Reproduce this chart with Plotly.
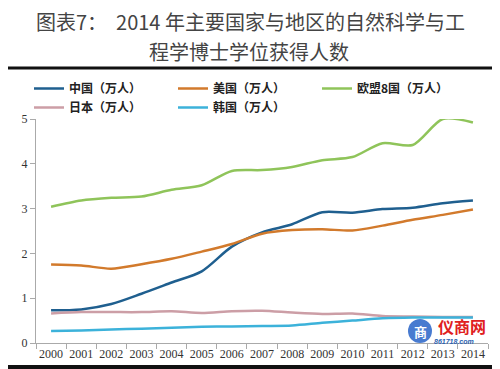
import plotly.graph_objects as go

years = [str(y) for y in range(2000, 2015)]
china = [0.73, 0.75, 0.87, 1.1, 1.35, 1.6, 2.15, 2.47, 2.65, 2.92, 2.91, 2.99, 3.02, 3.12, 3.18]
usa = [1.75, 1.73, 1.66, 1.76, 1.88, 2.04, 2.21, 2.44, 2.52, 2.54, 2.51, 2.62, 2.75, 2.86, 2.98]
eu8 = [3.04, 3.18, 3.24, 3.27, 3.42, 3.52, 3.84, 3.86, 3.93, 4.08, 4.15, 4.46, 4.42, 5.0, 4.92]
japan = [0.66, 0.69, 0.69, 0.69, 0.71, 0.67, 0.71, 0.72, 0.68, 0.65, 0.66, 0.6, 0.59, 0.58, 0.58]
korea = [0.27, 0.28, 0.3, 0.32, 0.34, 0.36, 0.37, 0.38, 0.39, 0.45, 0.5, 0.55, 0.57, 0.57, 0.57]

names = ["中国（万人）", "美国（万人）", "欧盟8国（万人）", "日本（万人）", "韩国（万人）"]
colors = ["#1f5f8f", "#d27a2c", "#8fc45a", "#cc9ea6", "#3cb2da"]
series = [china, usa, eu8, japan, korea]

fig = go.Figure()
for nm, col, vals in zip(names, colors, series):
    fig.add_trace(go.Scatter(x=years, y=vals, name=nm, mode="lines",
                             line=dict(color=col, width=2.5, shape="spline", smoothing=0.8)))

lab_font = dict(family="Liberation Sans, Arial", size=13, color="#333")
labels = [
    (years[0], eu8[0], 14, 12), (years[0], usa[0], 12, 12), (years[0], china[0], 6, 12),
    (years[-1], eu8[-1], 2, -12), (years[-1], china[-1], -2, 12), (years[-1], usa[-1], 0, -14),
]
for x, y, xs, ys in labels:
    fig.add_annotation(x=x, y=y, text=f"{y:.2f}", showarrow=False, xshift=xs, yshift=ys, font=lab_font)

OFF = 8  # page body margin
W, H = 500 - OFF, 369 - OFF
PL, PT, PW, PH = 36 - OFF, 119 - OFF, 452, 224
def px(x):
    return (x - OFF - PL) / PW
def py(y):
    return (PT + PH - (y - OFF)) / PH

def note(x, y, text, font):
    fig.add_annotation(xref="paper", yref="paper", x=px(x), y=py(y), text=text, showarrow=False,
                       xanchor="center", yanchor="middle", font=font)

# title
note(250, 21, "图表7：  2014 年主要国家与地区的自然科学与工", dict(family="Noto Sans CJK SC", size=20, color="#444"))
note(249, 51, "程学博士学位获得人数", dict(family="Noto Sans CJK SC", size=20, color="#444"))

# watermark
fig.add_shape(type="circle", xref="paper", yref="paper", x0=px(408), x1=px(432), y0=py(343), y1=py(319),
              fillcolor="rgba(40,100,200,0.85)", line=dict(width=0), layer="above")
note(420, 331, "<b>商</b>", dict(family="Noto Sans CJK SC", size=13, color="white"))
note(462, 326, "<b>仪商网</b>", dict(family="Noto Sans CJK SC", size=16, color="#e02020"))
note(454, 341, "<i><b>861718.com</b></i>", dict(family="Liberation Sans", size=7, color="#2a5fb0"))

fig.add_shape(type="line", xref="paper", yref="paper", x0=px(-10), x1=px(510), y0=py(68), y1=py(68),
              line=dict(color="#111", width=3))
fig.add_shape(type="line", xref="paper", yref="paper", x0=px(-10), x1=px(510), y0=py(367), y1=py(367),
              line=dict(color="#111", width=4))

fig.update_layout(
    width=W, height=H,
    margin=dict(l=PL, r=W - PL - PW, t=PT, b=H - PT - PH, autoexpand=False),
    paper_bgcolor="white", plot_bgcolor="white",
    showlegend=True,
    legend=dict(orientation="h", x=px(29), y=py(74), xanchor="left", yanchor="top",
                entrywidth=99, entrywidthmode="pixels", itemwidth=30,
                font=dict(family="Noto Sans CJK SC", size=12, color="#222", weight=700),
                tracegroupgap=0, bgcolor="rgba(0,0,0,0)"),
    xaxis=dict(type="category", range=[-0.5, 14.5], showgrid=False, showline=True, linecolor="#aaa",
               ticks="outside", tickson="boundaries", ticklen=5, tickcolor="#aaa", tickangle=0, automargin=False,
               tickfont=dict(family="Liberation Serif", size=12, color="#333")),
    yaxis=dict(range=[0, 5], dtick=1, showgrid=False, showline=True, linecolor="#aaa", zeroline=False,
               ticks="outside", ticklen=5, tickcolor="#aaa", automargin=False,
               tickfont=dict(family="Liberation Serif", size=12, color="#333")),
)

fig.write_html("out.html")
